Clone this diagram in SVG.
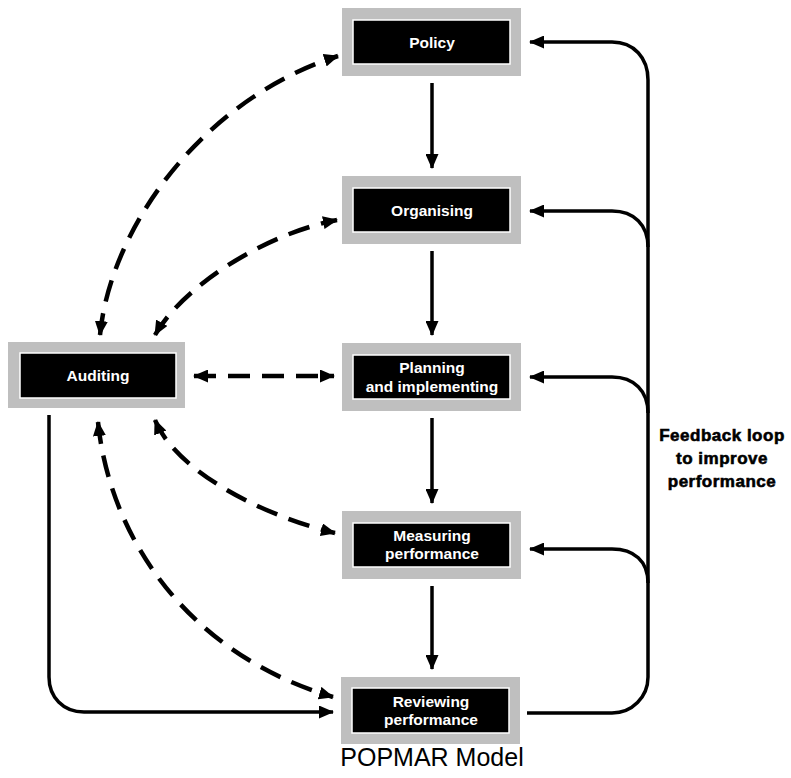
<svg xmlns="http://www.w3.org/2000/svg" width="791" height="778" viewBox="0 0 791 778">
<style>
.outer{fill:#bfbfbf}
.inner{fill:#000;stroke:#fff;stroke-width:1.5}
.lbl{font-family:"Liberation Sans",Arial,sans-serif;font-weight:bold;font-size:15.5px;fill:#fff;text-anchor:middle}
.solid{fill:none;stroke:#000;stroke-width:3.5}
.dash{fill:none;stroke:#000;stroke-width:4.5;stroke-dasharray:22 12}
.fb{font-family:"Liberation Sans",Arial,sans-serif;font-weight:bold;font-size:17px;fill:#000;stroke:#000;stroke-width:0.6;text-anchor:middle;letter-spacing:0.5px}
.title{font-family:"Liberation Sans",Arial,sans-serif;font-size:25px;fill:#000;text-anchor:middle}
</style>
<defs>
<marker id="ah" markerUnits="userSpaceOnUse" markerWidth="15" markerHeight="13" refX="14" refY="6.5" orient="auto-start-reverse" viewBox="0 0 15 13">
<path d="M0,0 L15,6.5 L0,13 z" fill="#000"/>
</marker>
</defs>
<rect width="791" height="778" fill="#fff"/>

<g id="connectors">
<path class="solid" d="M432,83 L432,168" marker-end="url(#ah)"/>
<path class="solid" d="M432,251 L432,335" marker-end="url(#ah)"/>
<path class="solid" d="M432,418 L432,503" marker-end="url(#ah)"/>
<path class="solid" d="M432,586 L432,669" marker-end="url(#ah)"/>
<path class="solid" d="M527,713 L612,713 C632,713 648,697 648,677 L648,80 C648,58 634,42 612,42 L530,42" marker-end="url(#ah)"/>
<path class="solid" d="M648,247 C648,225 634,211 612,211 L530,211" marker-end="url(#ah)"/>
<path class="solid" d="M648,413 C648,391 634,377 612,377 L530,377" marker-end="url(#ah)"/>
<path class="solid" d="M648,583 C648,561 634,549 612,549 L530,549" marker-end="url(#ah)"/>
<path class="solid" d="M49,415 L49,677 C49,697 63,712 84,712 L333,712" marker-end="url(#ah)"/>
<path class="dash" d="M100,335 C110,230 200,100 338,56" marker-start="url(#ah)" marker-end="url(#ah)"/>
<path class="dash" d="M155,335 C180,290 260,235 337,220" marker-start="url(#ah)" marker-end="url(#ah)"/>
<path class="dash" d="M194,376 L334,376" marker-start="url(#ah)" marker-end="url(#ah)"/>
<path class="dash" d="M155,420 C175,470 260,515 335,533" marker-start="url(#ah)" marker-end="url(#ah)"/>
<path class="dash" d="M98,422 C110,540 190,655 333,697" marker-start="url(#ah)" marker-end="url(#ah)"/>
</g>

<g id="policy">
<rect class="outer" x="342" y="8" width="179" height="68"/>
<rect class="inner" x="353" y="20" width="157" height="44"/>
<text class="lbl" x="432" y="47.5">Policy</text>
</g>
<g id="organising">
<rect class="outer" x="342" y="176" width="179" height="68"/>
<rect class="inner" x="353" y="188" width="157" height="44"/>
<text class="lbl" x="432" y="215.5">Organising</text>
</g>
<g id="planning">
<rect class="outer" x="342" y="343" width="179" height="68"/>
<rect class="inner" x="353" y="355" width="157" height="44"/>
<text class="lbl" x="432" y="373">Planning</text>
<text class="lbl" x="432" y="392">and implementing</text>
</g>
<g id="measuring">
<rect class="outer" x="342" y="511" width="179" height="68"/>
<rect class="inner" x="353" y="523" width="157" height="44"/>
<text class="lbl" x="432" y="541">Measuring</text>
<text class="lbl" x="432" y="559">performance</text>
</g>
<g id="reviewing">
<rect class="outer" x="341" y="677" width="179" height="67"/>
<rect class="inner" x="352" y="688" width="157" height="45"/>
<text class="lbl" x="431" y="707">Reviewing</text>
<text class="lbl" x="431" y="725">performance</text>
</g>
<g id="auditing">
<rect class="outer" x="8" y="342" width="177" height="66"/>
<rect class="inner" x="20" y="353" width="156" height="45"/>
<text class="lbl" x="98" y="381">Auditing</text>
</g>
<g id="feedback-label">
<text class="fb" x="722" y="441">Feedback loop</text>
<text class="fb" x="722" y="464">to improve</text>
<text class="fb" x="722" y="487">performance</text>
</g>
<text class="title" x="432" y="766">POPMAR Model</text>
</svg>
